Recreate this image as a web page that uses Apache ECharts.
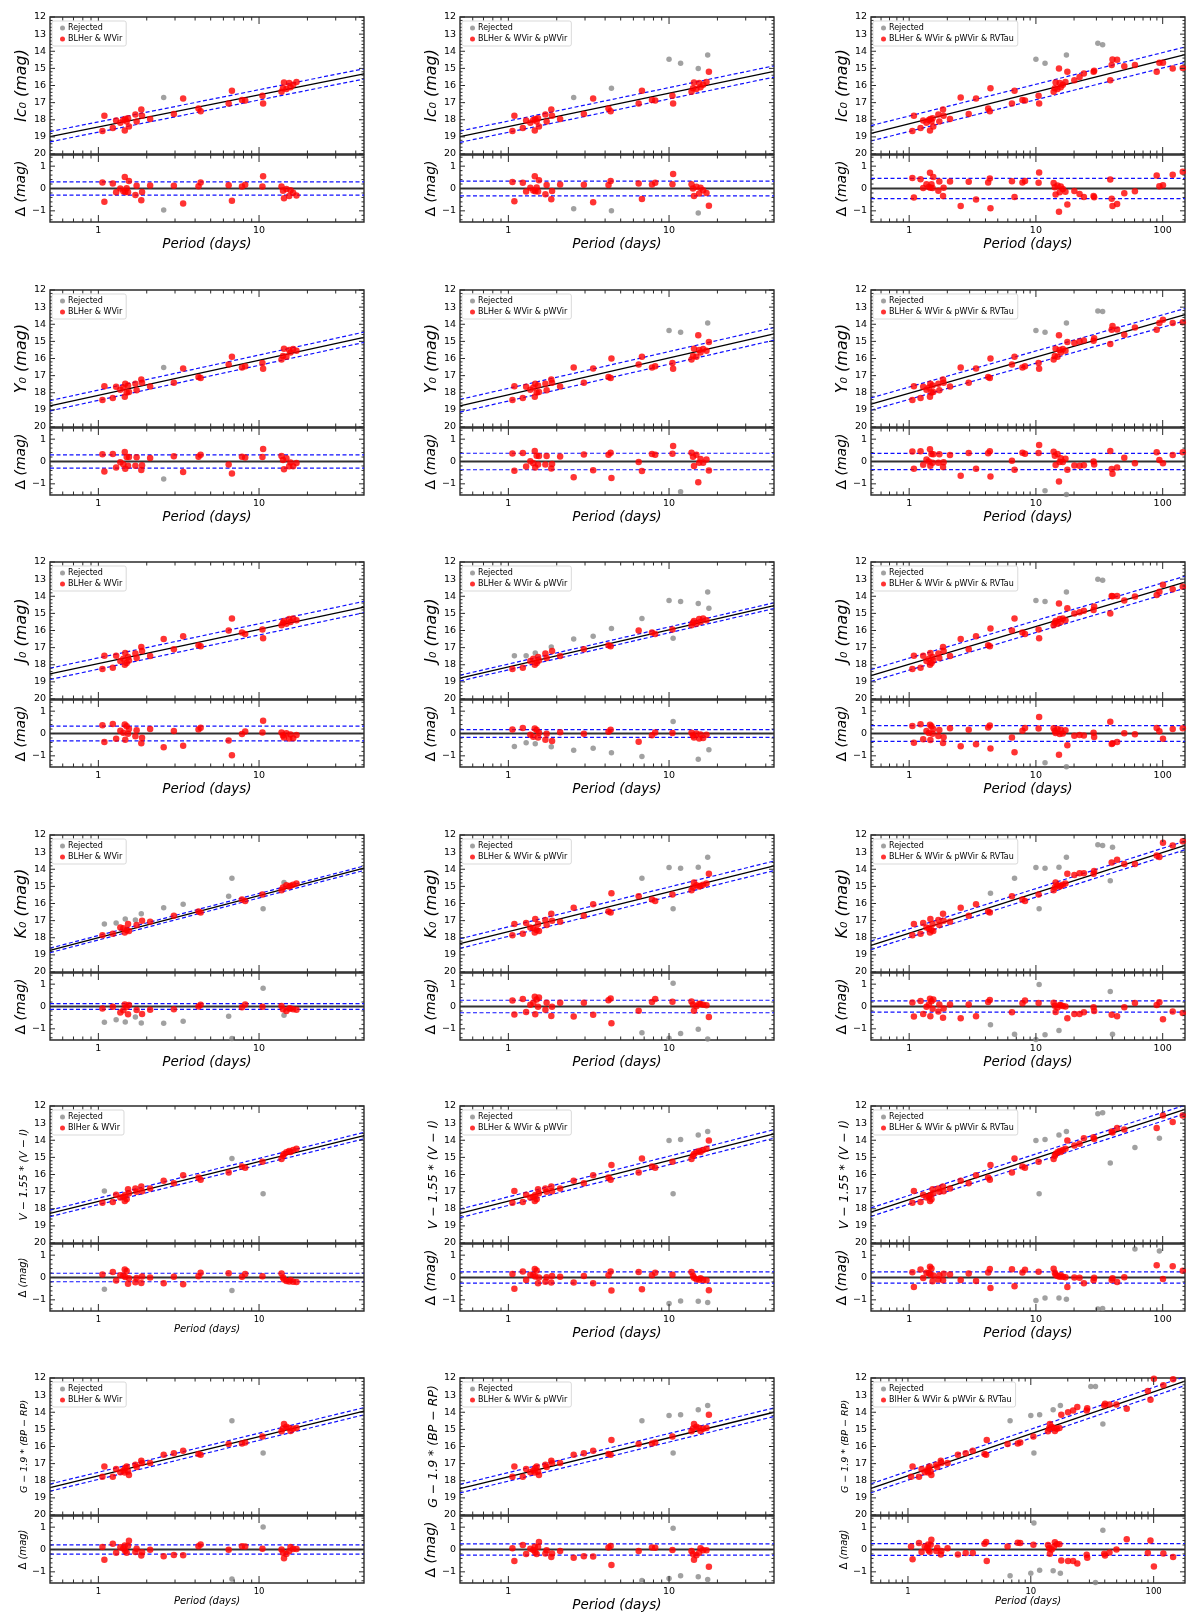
<!DOCTYPE html>
<html>
<head>
<meta charset="utf-8">
<script src="https://cdn.jsdelivr.net/npm/echarts/dist/echarts.min.js"></script>
<style>
  html, body { margin: 0; padding: 0; background: #fff; }
  #main { width: 1200px; height: 1616px; }
</style>
</head>
<body>
<div id="main"></div>
<script>
// periods (days) of the BLHer & WVir stars, shared by every band
const basePeriods = [1.06, 1.09, 1.23, 1.29, 1.37, 1.43, 1.46, 1.47, 1.50, 1.53, 1.55, 1.70, 1.73, 1.85, 1.87, 2.10, 2.55, 2.95, 3.37, 4.20,
  4.33, 6.47, 6.78, 7.83, 8.20, 10.5, 10.6, 13.8, 14.1, 14.3, 14.8, 15.4, 15.7, 16.3, 17.1];
// extra pWVir stars (middle column) and RVTau stars (right column)
const pwPeriods = [4.38, 10.0, 11.8, 15.2, 17.4, 17.7];
const rvPeriods = [20.1, 22.1, 23.9, 28.5, 28.8, 30.8, 33.6, 38.6, 39.6, 40.2, 43.7, 49.8, 60.4, 89.7, 94.2, 100.5, 120, 144];

// magnitudes per band
const icBase = [18.65, 17.76, 18.48, 18.05, 18.17, 18.01, 18.63, 17.95, 18.10, 17.91, 18.40, 17.70, 18.10, 17.40, 17.76, 17.95, 16.70, 17.66, 16.76, 17.35,
  17.50, 17.05, 16.31, 16.84, 16.88, 16.60, 17.05, 16.37, 16.16, 15.82, 16.20, 15.86, 16.10, 15.96, 15.80];
const yBase = [18.42, 17.62, 18.30, 17.65, 17.83, 17.70, 18.23, 17.48, 17.99, 17.58, 17.95, 17.48, 17.85, 17.22, 17.42, 17.64, 16.53, 17.42, 16.59, 17.08,
  17.14, 16.35, 15.90, 16.53, 16.45, 16.26, 16.60, 16.06, 15.86, 15.43, 15.90, 15.50, 15.65, 15.45, 15.55];
const jBase = [18.25, 17.47, 18.18, 17.47, 17.78, 17.65, 18.00, 17.31, 17.90, 17.55, 17.75, 17.35, 17.60, 16.96, 17.20, 17.49, 16.50, 17.10, 16.33, 16.86,
  16.92, 16.00, 15.30, 16.12, 16.20, 15.94, 16.45, 15.70, 15.55, 15.45, 15.60, 15.33, 15.50, 15.30, 15.40];
const kBase = [17.85, 17.20, 17.77, 17.14, 17.40, 17.45, 17.69, 16.90, 17.55, 17.20, 17.60, 16.96, 17.26, 16.60, 17.00, 17.06, 16.25, 16.72, 16.05, 16.47,
  16.52, 15.57, 14.53, 15.77, 15.85, 15.48, 16.30, 15.22, 15.06, 14.77, 14.93, 15.00, 14.97, 14.90, 14.83];
const wviBase = [17.65, 16.96, 17.61, 17.18, 17.35, 17.30, 17.55, 17.20, 17.45, 16.86, 17.10, 16.82, 17.00, 16.70, 16.98, 16.82, 16.37, 16.51, 16.04, 16.18,
  16.31, 15.88, 15.06, 15.53, 15.60, 15.25, 17.12, 15.10, 14.90, 14.80, 14.70, 14.63, 14.68, 14.57, 14.50];
const wgBase = [17.77, 17.17, 17.77, 17.32, 17.50, 17.40, 17.52, 17.26, 17.17, 17.46, 17.67, 17.07, 17.20, 16.83, 16.97, 16.97, 16.48, 16.40, 16.25, 16.44,
  16.48, 15.85, 14.49, 15.82, 15.76, 15.42, 16.38, 15.11, 14.95, 14.68, 14.84, 14.92, 15.10, 14.97, 14.92];

const icPW = [16.16, 14.46, 14.70, 15.00, 14.22, 15.20];
const yPW = [16.00, 14.36, 14.46, 14.64, 13.93, 15.03];
const jPW = [15.88, 14.25, 14.30, 14.42, 13.75, 14.70];
const kPW = [15.40, 13.90, 13.94, 13.88, 13.30, 14.27];
const wviPW = [15.45, 14.02, 13.96, 13.69, 13.49, 14.02];
const wgPW = [15.62, 14.19, 14.15, 13.86, 13.60, 14.15];

const icRV = [15.70, 15.50, 15.30, 15.20, 15.14, 13.54, 13.62, 15.70, 14.81, 14.48, 14.50, 14.87, 14.81, 15.20, 14.67, 14.67, 15.00, 14.98];
const yRV = [15.10, 15.00, 14.95, 14.96, 14.82, 13.22, 13.26, 15.15, 14.32, 14.10, 14.30, 14.62, 14.19, 14.32, 13.93, 13.73, 13.93, 13.89];
const jRV = [15.00, 14.94, 14.85, 14.80, 14.60, 13.00, 13.06, 15.00, 13.98, 14.00, 13.98, 14.25, 14.02, 13.92, 13.73, 13.33, 13.59, 13.45];
const kRV = [14.33, 14.23, 14.23, 14.27, 14.10, 12.57, 12.61, 14.67, 13.60, 12.71, 13.44, 13.70, 13.70, 13.20, 13.28, 12.45, 12.61, 12.36];
const wviRV = [14.31, 14.20, 13.88, 13.82, 13.92, 12.45, 12.39, 15.33, 13.49, 13.55, 13.29, 13.37, 14.43, 13.29, 13.88, 12.55, 12.94, 12.55];
const wgRV = [14.00, 13.90, 13.70, 13.90, 13.76, 12.49, 12.49, 14.68, 13.60, 13.50, 13.55, 13.55, 13.80, 12.76, 13.27, 12.04, 12.43, 12.08];

// periods of the rejected stars, per band and column
const icRejected = [[2.55], [2.55, 4.38, 10.0, 11.8, 15.2, 17.4], [10.0, 11.8, 17.4, 30.8, 33.6]];
const yRejected = [[2.55], [10.0, 11.8, 17.4], [10.0, 11.8, 17.4, 30.8, 33.6]];
const jRejected = [[], [1.09, 1.29, 1.47, 1.85, 2.55, 3.37, 4.38, 6.78, 10.6, 10.0, 11.8, 15.2, 17.4, 17.7], [10.0, 11.8, 17.4, 30.8, 33.6]];
const kRejected = [[1.09, 1.29, 1.47, 1.70, 1.85, 2.55, 3.37, 6.47, 6.78, 10.6, 14.3], [6.78, 10.6, 10.0, 11.8, 15.2, 17.4],
  [4.38, 6.78, 10.6, 10.0, 11.8, 15.2, 17.4, 30.8, 33.6, 38.6, 40.2]];
const wviRejected = [[1.09, 6.78, 10.6], [10.6, 10.0, 11.8, 15.2, 17.4], [10.6, 10.0, 11.8, 15.2, 17.4, 30.8, 33.6, 38.6, 60.4, 94.2]];
const wgRejected = [[6.78, 10.6], [6.78, 10.6, 10.0, 11.8, 15.2, 17.4], [6.78, 10.6, 10.0, 11.8, 15.2, 17.4, 30.8, 33.6, 38.6]];

// fitted PL line: magnitude at P = 0.5 and at the right edge of the axis
const icFits = [[18.99, 15.32], [18.99, 15.18], [18.79, 14.20]];
const yFits = [[18.76, 14.76], [18.76, 14.56], [18.66, 13.44]];
const jFits = [[18.53, 14.63], [18.78, 14.55], [18.63, 13.18]];
const kFits = [[18.74, 13.94], [18.34, 13.80], [18.44, 12.61]];
const wviFits = [[18.27, 13.73], [18.27, 13.63], [18.20, 12.20]];
const wgFits = [[18.40, 13.94], [18.46, 14.00], [18.44, 12.18]];
// dispersion (dashed lines)
const icSigma = [0.30, 0.33, 0.45];
const ySigma = [0.30, 0.37, 0.36];
const jSigma = [0.33, 0.17, 0.35];
const kSigma = [0.13, 0.28, 0.25];
const wviSigma = [0.19, 0.25, 0.25];
const wgSigma = [0.21, 0.25, 0.26];

const bandLabels = ['Ic\u2080 (mag)', 'Y\u2080 (mag)', 'J\u2080 (mag)', 'K\u2080 (mag)', 'V \u2212 1.55 * (V \u2212 I)', 'G \u2212 1.9 * (BP \u2212 RP)'];
const legendLabels = [
  ['BLHer & WVir', 'BLHer & WVir & pWVir', 'BLHer & WVir & pWVir & RVTau'],
  ['BLHer & WVir', 'BLHer & WVir & pWVir', 'BLHer & WVir & pWVir & RVTau'],
  ['BLHer & WVir', 'BLHer & WVir & pWVir', 'BLHer & WVir & pWVir & RVTau'],
  ['BLHer & WVir', 'BLHer & WVir & pWVir', 'BLHer & WVir & pWVir & RVTau'],
  ['BlHer & WVir', 'BLHer & WVir & pWVir', 'BLHer & WVir & pWVir & RVTau'],
  ['BLHer & WVir', 'BLHer & WVir & pWVir', 'BlHer & WVir & pWVir & RVTau']
];
const xMin = 0.5;
const xMaxes = [[45, 45, 150], [45, 45, 150], [45, 45, 150], [45, 45, 150], [45, 45, 150], [45, 45, 180]];

// tick values
const xMajorTicks = [1, 10, 100];
const xMinorTicks = [0.6, 0.7, 0.8, 0.9, 2, 3, 4, 5, 6, 7, 8, 9, 20, 30, 40, 50, 60, 70, 80, 90, 200];
const yMainTicks = [12, 13, 14, 15, 16, 17, 18, 19, 20];
const yResTicks = [-1, 0, 1];

const bands = [
  { base: icBase, pw: icPW, rv: icRV, rej: icRejected, fits: icFits, sig: icSigma },
  { base: yBase, pw: yPW, rv: yRV, rej: yRejected, fits: yFits, sig: ySigma },
  { base: jBase, pw: jPW, rv: jRV, rej: jRejected, fits: jFits, sig: jSigma },
  { base: kBase, pw: kPW, rv: kRV, rej: kRejected, fits: kFits, sig: kSigma },
  { base: wviBase, pw: wviPW, rv: wviRV, rej: wviRejected, fits: wviFits, sig: wviSigma },
  { base: wgBase, pw: wgPW, rv: wgRV, rej: wgRejected, fits: wgFits, sig: wgSigma }
];

// layout
const colLeft = [50, 460, 871];
const rowTop = [17, 290, 562, 835, 1106, 1378];
const plotW = 314, mainH = 137, resH = 67;
// panels whose labels were rendered smaller in the original figure (row-col) and their y-label size
const smallPanels = { '4-0': 10.5, '5-0': 9.5, '5-2': 9.5 };

const FONT = 'DejaVu Sans';
const FRAME = '#2b2b2b';
const RED = '#ff0000', GRAY = '#8a8a8a', BLUE = '#1010ff';

function minorOf(majors) {
  const out = [];
  for (let i = 0; i < majors.length - 1; i++) {
    for (let k = 1; k < 5; k++) out.push(+(majors[i] + k * (majors[i + 1] - majors[i]) / 5).toFixed(2));
  }
  return out;
}
const yMainMinor = minorOf(yMainTicks);
const yResMinor = minorOf([-2, -1, 0, 1, 2]).filter(v => v > -1.5 && v < 1.5);

function tickData(xmax, yMaj, yMin, yRef) {
  const d = [];
  xMajorTicks.filter(v => v > xMin && v < xmax).forEach(v => d.push([v, yRef, 0]));
  xMinorTicks.filter(v => v > xMin && v < xmax).forEach(v => d.push([v, yRef, 1]));
  yMaj.forEach(v => d.push([xMin, v, 2]));
  yMin.forEach(v => d.push([xMin, v, 3]));
  return d;
}

function renderTicks(params, api) {
  const cs = params.coordSys;
  const kind = api.value(2);
  const pt = api.coord([api.value(0), api.value(1)]);
  const st = { stroke: FRAME, lineWidth: 1 };
  if (kind < 2) {
    const len = kind === 0 ? 7 : 3.5;
    return { type: 'group', children: [
      { type: 'line', shape: { x1: pt[0], y1: cs.y, x2: pt[0], y2: cs.y + len }, style: st },
      { type: 'line', shape: { x1: pt[0], y1: cs.y + cs.height, x2: pt[0], y2: cs.y + cs.height - len }, style: st }
    ] };
  }
  const len = kind === 2 ? 5 : 2.5;
  return { type: 'group', children: [
    { type: 'line', shape: { x1: cs.x, y1: pt[1], x2: cs.x + len, y2: pt[1] }, style: st },
    { type: 'line', shape: { x1: cs.x + cs.width, y1: pt[1], x2: cs.x + cs.width - len, y2: pt[1] }, style: st }
  ] };
}

const isPow10 = v => { const l = Math.log10(v); return Math.abs(l - Math.round(l)) < 1e-6; };
const minus = v => (v < 0 ? '\u2212' + Math.abs(v) : String(v));

const grid = [], xAxis = [], yAxis = [], series = [], legend = [];

bands.forEach((band, r) => {
  [0, 1, 2].forEach(c => {
    const gi = grid.length;
    const left = colLeft[c], top = rowTop[r];
    const xmax = xMaxes[r][c];
    const f0 = band.fits[c][0], f1 = band.fits[c][1];
    const s = band.sig[c];
    const smallY = smallPanels[r + '-' + c];
    const small = smallY !== undefined;
    const fitAt = P => f0 + (f1 - f0) * (Math.log10(P) - Math.log10(xMin)) / (Math.log10(xmax) - Math.log10(xMin));

    let stars = band.base.map((m, i) => [basePeriods[i], m]);
    if (c >= 1) stars = stars.concat(band.pw.map((m, i) => [pwPeriods[i], m]));
    if (c >= 2) stars = stars.concat(band.rv.map((m, i) => [rvPeriods[i], m]));
    const rej = band.rej[c];
    const gray = stars.filter(d => rej.includes(d[0]));
    const red = stars.filter(d => !rej.includes(d[0]));
    const resid = arr => arr.map(d => [d[0], +(d[1] - fitAt(d[0])).toFixed(3)]);

    const ySize = small ? smallY : (r >= 4 ? 12.5 : 16);
    const dSize = small ? 10 : 14;
    const xSize = small ? 10 : 13.5;

    grid.push({ left: left, top: top, width: plotW, height: mainH, show: true, borderColor: FRAME, borderWidth: 1.4, outerBoundsMode: 'none' });
    grid.push({ left: left, top: top + mainH + 1, width: plotW, height: resH, show: true, borderColor: FRAME, borderWidth: 1.4, outerBoundsMode: 'none' });

    const xBase = { type: 'log', logBase: 10, min: xMin, max: xmax, axisLine: { show: false }, axisTick: { show: false }, splitLine: { show: false } };
    xAxis.push(Object.assign({ gridIndex: gi, axisLabel: { show: false } }, xBase));
    xAxis.push(Object.assign({
      gridIndex: gi + 1,
      axisLabel: { show: true, customValues: xMajorTicks.filter(v => v <= xmax), formatter: v => (isPow10(v) ? String(Math.round(v)) : ''),
        fontFamily: FONT, fontSize: small ? 8.5 : 9.5, color: '#000', margin: 4 },
      name: 'Period (days)', nameLocation: 'middle', nameGap: small ? 13 : 15,
      nameTextStyle: { fontFamily: FONT, fontSize: xSize, fontStyle: 'italic', color: '#000' }
    }, xBase));

    yAxis.push({
      gridIndex: gi, type: 'value', inverse: true, min: 12, max: 20, interval: 1,
      axisLine: { show: false }, axisTick: { show: false }, splitLine: { show: false },
      axisLabel: { fontFamily: FONT, fontSize: 9.5, color: '#000', margin: 4 },
      name: bandLabels[r], nameLocation: 'middle', nameGap: 17,
      nameTextStyle: { fontFamily: FONT, fontSize: ySize, fontStyle: 'italic', color: '#000' }
    });
    yAxis.push({
      gridIndex: gi + 1, type: 'value', min: -1.5, max: 1.5, interval: 0.5,
      axisLine: { show: false }, axisTick: { show: false }, splitLine: { show: false },
      axisLabel: { customValues: yResTicks, formatter: v => (Math.abs(v - Math.round(v)) < 1e-9 ? minus(Math.round(v)) : ''),
        fontFamily: FONT, fontSize: 9.5, color: '#000', margin: 4 },
      name: '{d|\u0394} {m|(mag)}', nameLocation: 'middle', nameGap: 17,
      nameTextStyle: { fontFamily: FONT, fontSize: dSize, color: '#000',
        rich: { d: { fontFamily: FONT, fontSize: dSize, color: '#000' },
                m: { fontFamily: FONT, fontSize: dSize, fontStyle: 'italic', color: '#000' } } }
    });

    const lineCommon = { type: 'line', symbol: 'none', silent: true, animation: false };
    // main panel
    series.push({ type: 'custom', xAxisIndex: gi, yAxisIndex: gi, renderItem: renderTicks, silent: true, z: 5,
      encode: { x: 0, y: 1 }, data: tickData(xmax, yMainTicks, yMainMinor, 12) });
    series.push(Object.assign({ xAxisIndex: gi, yAxisIndex: gi, z: 2, lineStyle: { color: '#000', width: 1.3 },
      data: [[xMin, f0], [xmax, f1]] }, lineCommon));
    series.push(Object.assign({ xAxisIndex: gi, yAxisIndex: gi, z: 2, lineStyle: { color: BLUE, width: 1.2, type: [4, 2.5] },
      data: [[xMin, f0 - s], [xmax, f1 - s]] }, lineCommon));
    series.push(Object.assign({ xAxisIndex: gi, yAxisIndex: gi, z: 2, lineStyle: { color: BLUE, width: 1.2, type: [4, 2.5] },
      data: [[xMin, f0 + s], [xmax, f1 + s]] }, lineCommon));
    series.push({ type: 'scatter', name: 'Rejected', xAxisIndex: gi, yAxisIndex: gi, z: 3, symbolSize: 5.5,
      itemStyle: { color: GRAY }, data: gray, silent: true });
    series.push({ type: 'scatter', name: legendLabels[r][c], xAxisIndex: gi, yAxisIndex: gi, z: 4, symbolSize: 6.5,
      itemStyle: { color: RED }, data: red, silent: true });

    // residual panel
    series.push({ type: 'custom', xAxisIndex: gi + 1, yAxisIndex: gi + 1, renderItem: renderTicks, silent: true, z: 5,
      encode: { x: 0, y: 1 }, data: tickData(xmax, yResTicks, yResMinor, 0) });
    series.push(Object.assign({ xAxisIndex: gi + 1, yAxisIndex: gi + 1, z: 2, lineStyle: { color: '#333', width: 2 },
      data: [[xMin, 0], [xmax, 0]] }, lineCommon));
    series.push(Object.assign({ xAxisIndex: gi + 1, yAxisIndex: gi + 1, z: 2, lineStyle: { color: BLUE, width: 1.2, type: [4, 2.5] },
      data: [[xMin, s], [xmax, s]] }, lineCommon));
    series.push(Object.assign({ xAxisIndex: gi + 1, yAxisIndex: gi + 1, z: 2, lineStyle: { color: BLUE, width: 1.2, type: [4, 2.5] },
      data: [[xMin, -s], [xmax, -s]] }, lineCommon));
    series.push({ type: 'scatter', name: 'Rejected', xAxisIndex: gi + 1, yAxisIndex: gi + 1, z: 3, symbolSize: 5.5,
      itemStyle: { color: GRAY }, data: resid(gray), silent: true });
    series.push({ type: 'scatter', name: legendLabels[r][c], xAxisIndex: gi + 1, yAxisIndex: gi + 1, z: 4, symbolSize: 6.5,
      itemStyle: { color: RED }, data: resid(red), silent: true });

    legend.push({
      left: left + 2, top: top + 4, orient: 'vertical', selectedMode: false, icon: 'circle',
      itemWidth: 5, itemHeight: 5, itemGap: 3, padding: [3, 4, 3, 8],
      borderColor: '#cfcfcf', borderWidth: 0.8, borderRadius: 2, backgroundColor: '#fff',
      textStyle: { fontFamily: FONT, fontSize: 8, color: '#000', padding: [0, 0, 0, -2] },
      data: [{ name: 'Rejected', itemStyle: { color: GRAY } }, { name: legendLabels[r][c], itemStyle: { color: RED } }],
      z: 10
    });
  });
});

const chart = echarts.init(document.getElementById('main'), null, { renderer: 'canvas' });
chart.setOption({
  animation: false,
  backgroundColor: '#fff',
  textStyle: { fontFamily: FONT },
  grid: grid,
  xAxis: xAxis,
  yAxis: yAxis,
  legend: legend,
  series: series
});
</script>
</body>
</html>
